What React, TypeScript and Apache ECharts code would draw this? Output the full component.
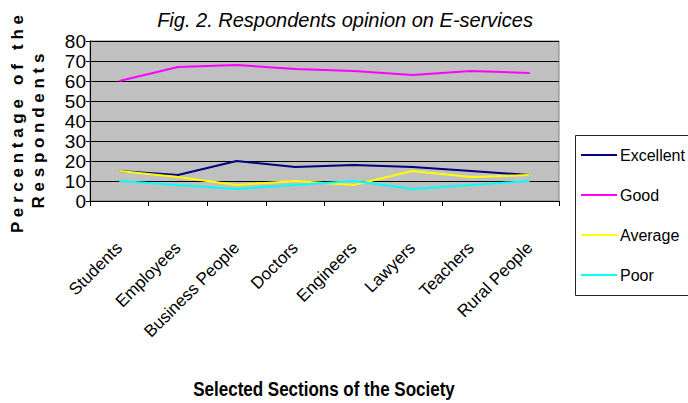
import React, { useEffect, useRef } from "react";
import * as echarts from "echarts";

const categories = [
  "Students",
  "Employees",
  "Business People",
  "Doctors",
  "Engineers",
  "Lawyers",
  "Teachers",
  "Rural People",
];
const excellent = [15, 13, 20, 17, 18, 17, 15, 13];
const good = [60, 67, 68, 66, 65, 63, 65, 64];
const average = [15, 12, 8, 10, 8, 15, 12, 13];
const poor = [10, 8, 6, 8, 10, 6, 8, 10];
const seriesNames = ["Excellent", "Good", "Average", "Poor"];
const seriesColors = ["#000080", "#FF00FF", "#FFFF00", "#00FFFF"];
const yTicks = { min: 0, max: 80, interval: 10 };

const FONT = "'Liberation Sans', Arial, sans-serif";

export default function App() {
  const ref = useRef<HTMLDivElement>(null);
  useEffect(() => {
    document.body.style.margin = "0";
    if (!ref.current) return;
    const chart = echarts.init(ref.current, null, { renderer: "svg" });
    const data = [excellent, good, average, poor];
    chart.setOption({
      animation: false,
      backgroundColor: "#ffffff",
      textStyle: { fontFamily: FONT },
      grid: {
        left: 90,
        top: 41,
        right: 129,
        bottom: 202,
        show: true,
        backgroundColor: "#C0C0C0",
        borderColor: "#808080",
        borderWidth: 1,
      },
      legend: {
        orient: "vertical",
        left: 581,
        top: 147,
        padding: 0,
        itemWidth: 36,
        itemHeight: 2,
        itemGap: 24,
        icon: "rect",
        textStyle: { fontSize: 16, lineHeight: 16, color: "#000", fontFamily: FONT, padding: [0, 0, 0, -2] },
        data: seriesNames,
      },
      xAxis: {
        type: "category",
        data: categories,
        boundaryGap: true,
        axisLine: { lineStyle: { color: "#000", width: 1 } },
        axisTick: { show: true, length: 5, lineStyle: { color: "#000" } },
        axisLabel: {
          rotate: 45,
          interval: 0,
          margin: 44,
          fontSize: 17,
          color: "#000",
          fontFamily: FONT,
        },
        splitLine: { show: false },
      },
      yAxis: {
        type: "value",
        min: yTicks.min,
        max: yTicks.max,
        interval: yTicks.interval,
        axisLine: { show: true, lineStyle: { color: "#000", width: 1 } },
        axisTick: { show: true, length: 4, lineStyle: { color: "#000" } },
        axisLabel: { fontSize: 19, color: "#000", margin: 4, fontFamily: FONT },
        splitLine: { show: true, lineStyle: { color: "#000", width: 1 } },
      },
      series: seriesNames.map((name, i) => ({
        name,
        type: "line",
        data: data[i],
        symbol: "none",
        lineStyle: { color: seriesColors[i], width: 2 },
        itemStyle: { color: seriesColors[i] },
      })),
      graphic: [
        {
          type: "text",
          x: 345,
          y: 20,
          style: {
            text: "Fig. 2. Respondents opinion on E-services",
            fontSize: 20,
            fontStyle: "italic",
            fontFamily: FONT,
            fill: "#000",
            align: "center",
            verticalAlign: "middle",
          },
        },
        {
          type: "text",
          x: 17,
          y: 124,
          rotation: Math.PI / 2,
          style: {
            text: "P e r c e n t a g e   o f   t h e",
            fontSize: 17,
            fontWeight: "bold",
            fontFamily: FONT,
            fill: "#000",
            align: "center",
            verticalAlign: "middle",
          },
        },
        {
          type: "text",
          x: 38,
          y: 131,
          rotation: Math.PI / 2,
          style: {
            text: "R e s p o n d e n t s",
            fontSize: 17,
            fontWeight: "bold",
            fontFamily: FONT,
            fill: "#000",
            align: "center",
            verticalAlign: "middle",
          },
        },
        {
          type: "text",
          x: 324,
          y: 389,
          scaleX: 0.85,
          style: {
            text: "Selected Sections of the Society",
            fontSize: 20,
            fontWeight: "bold",
            fontFamily: FONT,
            fill: "#000",
            align: "center",
            verticalAlign: "middle",
          },
        },
        {
          type: "rect",
          shape: { x: 575.5, y: 135.5, width: 130, height: 160 },
          style: { fill: "none", stroke: "#222", lineWidth: 1 },
          z: 10,
        },
      ],
    });
    return () => chart.dispose();
  }, []);
  return <div ref={ref} style={{ width: 688, height: 403 }} />;
}
